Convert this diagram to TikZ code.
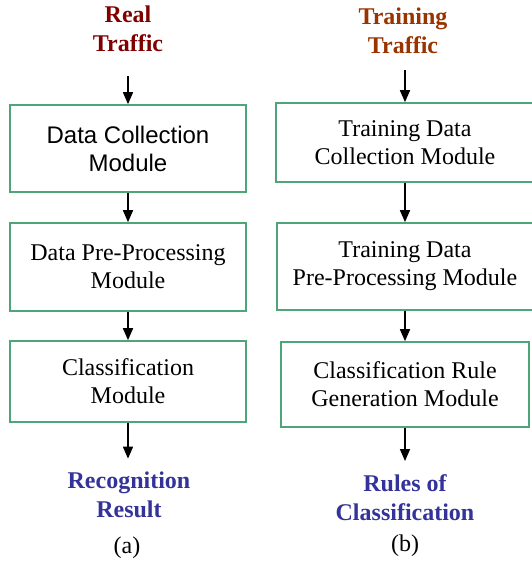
\documentclass[tikz,border=0pt]{standalone}
\usepackage{fontspec}
\setmainfont{Liberation Serif}
\newfontfamily\arialfont{Liberation Sans}
\usetikzlibrary{arrows.meta}
\definecolor{realred}{RGB}{128,0,0}
\definecolor{trainbrown}{RGB}{153,51,0}
\definecolor{resblue}{RGB}{51,51,153}
\definecolor{boxgreen}{RGB}{80,165,120}
\begin{document}
\begin{tikzpicture}[x=0.5pt, y=-0.5pt, font=\fontsize{12}{14}\selectfont,
	box/.style={draw=boxgreen, line width=0.8pt, align=center, inner sep=0pt},
	lbl/.style={align=center, inner sep=0pt, font=\fontsize{12}{14.5}\selectfont\bfseries},
	arr/.style={-{Triangle[width=5pt, length=6pt]}, line width=0.75pt}]
	\useasboundingbox (0,0) rectangle (531,563);
	
	% (a)
	\node[lbl, realred] (RT) at (128,29) {Real\\Traffic};
	\node[box, minimum width=118pt, minimum height=43.5pt, font=\fontsize{12}{14}\arialfont] (A) at (128,148.5) {Data Collection\\Module};
	\node[box, minimum width=118pt, minimum height=44pt] (B) at (128,267) {Data Pre-Processing\\Module};
	\node[box, minimum width=118pt, minimum height=40.5pt] (C) at (128,381.5) {Classification\\Module};
	\node[lbl, resblue] (RR) at (129,495) {Recognition\\Result};
	\node[inner sep=0pt] (CA) at (127,548) {(a)};
	\draw[arr, shorten <=12pt] (RT) -- (A);
	\draw[arr] (A) -- (B);
	\draw[arr] (B) -- (C);
	\draw[arr, shorten >=6.5pt] (C) -- (C |- RR.north);
	
	% (b)
	\node[lbl, trainbrown] (TT) at (403,31) {Training\\Traffic};
	\node[box, minimum width=129pt, minimum height=39.5pt] (A1) at (405,142.5) {Training Data\\Collection Module};
	\node[box, minimum width=128pt, minimum height=43.5pt] (B1) at (405,266.5) {Training Data\\Pre-Processing Module};
	\node[box, minimum width=124pt, minimum height=42.5pt] (C1) at (405,384.5) {Classification Rule\\Generation Module};
	\node[lbl, resblue] (RC) at (405,497.5) {Rules of\\Classification};
	\node[inner sep=0pt] (CB) at (405,546) {(b)};
	\draw[arr, shorten <=8pt] (TT.south -| A1) -- (A1);
	\draw[arr] (A1) -- (B1);
	\draw[arr] (B1) -- (C1);
	\draw[arr, shorten >=6.5pt] (C1) -- (C1 |- RC.north);
\end{tikzpicture}
\end{document}
